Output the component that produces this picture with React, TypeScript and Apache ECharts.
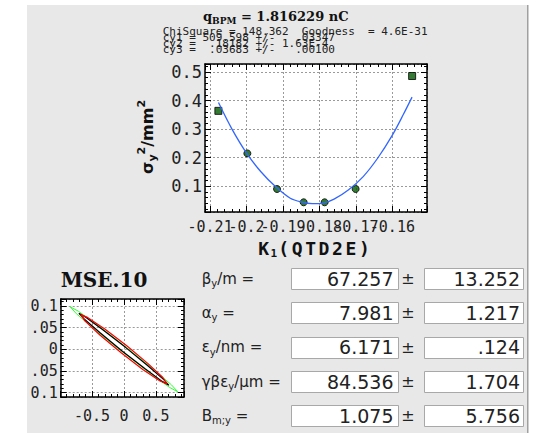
import React, { useEffect, useRef } from 'react';
import * as echarts from 'echarts';

// ---------- data ----------
const kPoints = [-0.20773, -0.19978, -0.19164, -0.18433, -0.17858, -0.17008, -0.15458];
const sigmaPoints = [0.364, 0.215, 0.0905, 0.044, 0.044, 0.0905, 0.486];
const pointUsed = [false, true, true, true, true, true, false];

const fitK = [-0.2077, -0.204, -0.2, -0.196, -0.192, -0.188, -0.185, -0.182, -0.179, -0.176, -0.172, -0.168, -0.164, -0.16, -0.157, -0.1546];
const fitSigma = [0.393, 0.3, 0.216, 0.15, 0.098, 0.058, 0.045, 0.039, 0.041, 0.055, 0.088, 0.134, 0.199, 0.279, 0.351, 0.412];

const greenEllipse = [
  [0.842, -0.098], [0.744, -0.082], [0.446, -0.044], [0.029, 0.0054], [-0.396, 0.054], [-0.715, 0.088],
  [-0.842, 0.098], [-0.744, 0.082], [-0.446, 0.044], [-0.029, -0.0054], [0.396, -0.054], [0.715, -0.088], [0.842, -0.098],
];
const blackEllipse = [
  [0.705, -0.083], [0.623, -0.07], [0.374, -0.038], [0.0245, 0.0045], [-0.331, 0.045], [-0.598, 0.074],
  [-0.705, 0.083], [-0.623, 0.07], [-0.374, 0.038], [-0.0245, -0.0045], [0.331, -0.045], [0.598, -0.074], [0.705, -0.083],
];
const redEllipse = [
  [0.677, -0.08], [0.608, -0.065], [0.377, -0.033], [0.044, 0.008], [-0.3, 0.047], [-0.564, 0.073],
  [-0.677, 0.08], [-0.608, 0.065], [-0.377, 0.033], [-0.044, -0.008], [0.3, -0.047], [0.564, -0.073], [0.677, -0.08],
];

const statLines = [
  'ChiSquare = 148.362  Goodness  = 4.6E-31',
  'cy1 = 509.598 +/-   .03347',
  'cy2 =  .18182 +/- 1.63E-4',
  'cy3 =  .03683 +/-   .00100',
];

const paramLabels = [
  '{m|\u03B2}{s|y}{m|/m =}',
  '{m|\u03B1}{s|y}{m| =}',
  '{m|\u03B5}{s|y}{m|/nm =}',
  '{m|\u03B3\u03B2\u03B5}{s|y}{m|/\u03BCm =}',
  '{m|B}{s|m;y}{m| =}',
];
const paramValues = ['67.257', '7.981', '6.171', '84.536', '1.075'];
const paramErrors = ['13.252', '1.217', '.124', '1.704', '5.756'];

// ---------- layout ----------
const rowY = [278.5, 312.5, 347, 381.7, 415.7];
const mainGrid = { left: 205, top: 64, width: 222, height: 148 };
const smallGrid = { left: 60.7, top: 299, width: 123.3, height: 98 };

function axis(min: number, max: number, o: any) {
  return {
    type: 'value',
    min,
    max,
    splitNumber: o.splitNumber ?? 5,
    gridIndex: o.gridIndex,
    position: o.position,
    axisLine: { show: true, onZero: false, lineStyle: { color: '#000', width: 1.5 } },
    axisTick: { show: true, inside: true, length: 6, lineStyle: { color: '#000', width: 1 } },
    minorTick: { show: true, splitNumber: 5, length: 3, lineStyle: { color: '#000', width: 1 } },
    splitLine: { show: !!o.split, lineStyle: { color: '#9a9a9a', width: 1, type: [2, 2] } },
    axisLabel: o.label
      ? {
          show: true,
          showMinLabel: false,
          showMaxLabel: false,
          hideOverlap: false,
          margin: o.margin,
          fontFamily: 'DejaVu Sans Mono',
          fontSize: o.fontSize,
          color: '#222',
        }
      : { show: false },
  };
}

function buildGraphic() {
  const graphic: any[] = [];
  graphic.push({
    type: 'text', x: 203, y: 16,
    style: {
      text: '{q|q}{s|BPM}{q| = 1.816229 nC}',
      align: 'left', textAlign: 'left', verticalAlign: 'middle', textVerticalAlign: 'middle',
      rich: {
        q: { fontFamily: 'DejaVu Serif', fontWeight: 'bold', fontSize: 13, lineHeight: 18, fill: '#111', color: '#111' },
        s: { fontFamily: 'DejaVu Serif', fontWeight: 'bold', fontSize: 9, lineHeight: 9, verticalAlign: 'bottom', fill: '#111', color: '#111' },
      },
    },
  });
  const statYs = [31, 37.5, 43.3, 49.3];
  statLines.forEach((t, i) => {
    graphic.push({
      type: 'text', x: 162.7, y: statYs[i],
      style: { text: t, font: '11px "DejaVu Sans Mono"', fill: '#222', align: 'left', textAlign: 'left', verticalAlign: 'middle', textVerticalAlign: 'middle' },
    });
  });
  graphic.push({
    type: 'text', x: 147, y: 137, rotation: Math.PI / 2,
    style: {
      text: '{m|\u03C3}{s|y}{p|2}{m|/mm}{p|2}',
      align: 'center', textAlign: 'center', verticalAlign: 'middle', textVerticalAlign: 'middle',
      rich: {
        m: { fontFamily: 'DejaVu Sans', fontWeight: 'bold', fontSize: 16, lineHeight: 22, fill: '#111', color: '#111' },
        s: { fontFamily: 'DejaVu Sans', fontWeight: 'bold', fontSize: 11, lineHeight: 11, verticalAlign: 'bottom', fill: '#111', color: '#111' },
        p: { fontFamily: 'DejaVu Sans', fontWeight: 'bold', fontSize: 11, lineHeight: 11, verticalAlign: 'top', fill: '#111', color: '#111' },
      },
    },
  });
  const xt = ['K', '_1', '(', 'Q', 'T', 'D', '2', 'E', ')'];
  graphic.push({
    type: 'text', x: 314, y: 248,
    style: {
      text: xt.map((c) => (c[0] === '_' ? `{s|${c.slice(1)}}` : `{c|${c}}`)).join(''),
      align: 'center', textAlign: 'center', verticalAlign: 'middle', textVerticalAlign: 'middle',
      rich: {
        c: { fontFamily: 'DejaVu Sans Mono', fontWeight: 'bold', fontSize: 18, lineHeight: 22, padding: [0, 1.3, 0, 1.3], fill: '#111', color: '#111' },
        s: { fontFamily: 'DejaVu Sans Mono', fontWeight: 'bold', fontSize: 11, lineHeight: 12, verticalAlign: 'bottom', fill: '#111', color: '#111' },
      },
    },
  });
  graphic.push({
    type: 'text', x: 104, y: 280,
    style: { text: 'MSE.10', font: 'bold 20px "DejaVu Serif"', fill: '#111', align: 'center', textAlign: 'center', verticalAlign: 'middle', textVerticalAlign: 'middle' },
  });
  graphic.push({ type: 'rect', z: 100, shape: { x: 0, y: 288, width: 27, height: 130 }, style: { fill: '#ffffff' } });
  graphic.push({ type: 'rect', z: 100, shape: { x: 27, y: 288, width: 4, height: 130 }, style: { fill: '#e8e8e8' } });
  paramLabels.forEach((lab, i) => {
    const cy = rowY[i];
    graphic.push({
      type: 'text', x: 201.7, y: cy,
      style: {
        text: lab,
        align: 'left', textAlign: 'left', verticalAlign: 'middle', textVerticalAlign: 'middle',
        rich: {
          m: { fontFamily: 'DejaVu Sans', fontSize: 15, lineHeight: 20, fill: '#222', color: '#222' },
          s: { fontFamily: 'DejaVu Sans', fontSize: 10, lineHeight: 10, verticalAlign: 'bottom', fill: '#222', color: '#222' },
        },
      },
    });
    graphic.push({ type: 'rect', shape: { x: 291.5, y: Math.round(cy - 10.5) + 0.5, width: 107, height: 21 }, style: { fill: '#fff', stroke: '#a8a8a8', lineWidth: 1 } });
    graphic.push({ type: 'rect', shape: { x: 424.5, y: Math.round(cy - 10.5) + 0.5, width: 99, height: 21 }, style: { fill: '#fff', stroke: '#a8a8a8', lineWidth: 1 } });
    graphic.push({
      type: 'text', x: 393.5, y: cy,
      style: { text: paramValues[i], font: '19px "DejaVu Sans"', fill: '#222', align: 'right', textAlign: 'right', verticalAlign: 'middle', textVerticalAlign: 'middle' },
    });
    graphic.push({
      type: 'text', x: 408, y: cy,
      style: { text: '\u00B1', font: '16px "DejaVu Sans"', fill: '#222', align: 'center', textAlign: 'center', verticalAlign: 'middle', textVerticalAlign: 'middle' },
    });
    graphic.push({
      type: 'text', x: 520, y: cy,
      style: { text: paramErrors[i], font: '19px "DejaVu Sans"', fill: '#222', align: 'right', textAlign: 'right', verticalAlign: 'middle', textVerticalAlign: 'middle' },
    });
  });
  return graphic;
}

const pageBackground = [
  `linear-gradient(#fff,#fff) ${mainGrid.left}px ${mainGrid.top}px / ${mainGrid.width}px ${mainGrid.height}px no-repeat`,
  `linear-gradient(#fff,#fff) ${smallGrid.left}px ${smallGrid.top}px / ${smallGrid.width}px ${smallGrid.height}px no-repeat`,
  'linear-gradient(#a0a0a0,#a0a0a0) 527px 5px / 1.5px 428px no-repeat',
  'linear-gradient(#e8e8e8,#e8e8e8) 27px 5px / 500px 428px no-repeat',
  '#ffffff',
].join(', ');

export default function App() {
  const ref = useRef<HTMLDivElement>(null);

  useEffect(() => {
    if (!ref.current) return;
    document.body.style.margin = '0';
    const chart = echarts.init(ref.current, undefined, { renderer: 'svg' });
    const used = kPoints.map((k, i) => [k, sigmaPoints[i]]).filter((_, i) => pointUsed[i]);
    const excluded = kPoints.map((k, i) => [k, sigmaPoints[i]]).filter((_, i) => !pointUsed[i]);

    chart.setOption({
      animation: false,
      grid: [{ ...mainGrid }, { ...smallGrid }],
      xAxis: [
        axis(-0.2114, -0.1505, { gridIndex: 0, position: 'bottom', split: true, label: true, fontSize: 15, margin: 7 }),
        axis(-0.2114, -0.1505, { gridIndex: 0, position: 'top' }),
        axis(-0.99, 0.94, { gridIndex: 1, position: 'bottom', split: true, label: true, fontSize: 15, margin: 11, splitNumber: 4 }),
        axis(-0.99, 0.94, { gridIndex: 1, position: 'top', splitNumber: 4 }),
      ],
      yAxis: [
        axis(0.01, 0.528, { gridIndex: 0, position: 'left', split: true, label: true, fontSize: 17, margin: 3 }),
        axis(0.01, 0.528, { gridIndex: 0, position: 'right' }),
        axis(-0.11, 0.116, { gridIndex: 1, position: 'left', split: true, label: true, fontSize: 15, margin: 3 }),
        axis(-0.11, 0.116, { gridIndex: 1, position: 'right' }),
      ],
      series: [
        {
          type: 'line', xAxisIndex: 0, yAxisIndex: 0,
          data: fitK.map((k, i) => [k, fitSigma[i]]),
          symbol: 'none', smooth: 0.3,
          lineStyle: { color: '#3366ff', width: 1.3 },
        },
        {
          type: 'scatter', xAxisIndex: 0, yAxisIndex: 0, data: used,
          symbol: 'circle', symbolSize: 7,
          itemStyle: { color: '#005a00', borderColor: '#000', borderWidth: 1 },
        },
        {
          type: 'scatter', xAxisIndex: 0, yAxisIndex: 0, data: excluded,
          symbol: 'rect', symbolSize: 7,
          itemStyle: { color: '#005a00', borderColor: '#000', borderWidth: 1 },
        },
        {
          type: 'line', xAxisIndex: 2, yAxisIndex: 2, data: greenEllipse,
          symbol: 'none', lineStyle: { color: '#33ff33', width: 1 },
        },
        {
          type: 'line', xAxisIndex: 2, yAxisIndex: 2, data: blackEllipse,
          symbol: 'none', lineStyle: { color: '#000', width: 1.2 },
        },
        {
          type: 'line', xAxisIndex: 2, yAxisIndex: 2, data: redEllipse,
          symbol: 'none', lineStyle: { color: '#ff0000', width: 1.2 },
        },
      ],
      graphic: buildGraphic(),
    });

    return () => chart.dispose();
  }, []);

  return <div ref={ref} style={{ width: 539, height: 433, background: pageBackground }} />;
}
